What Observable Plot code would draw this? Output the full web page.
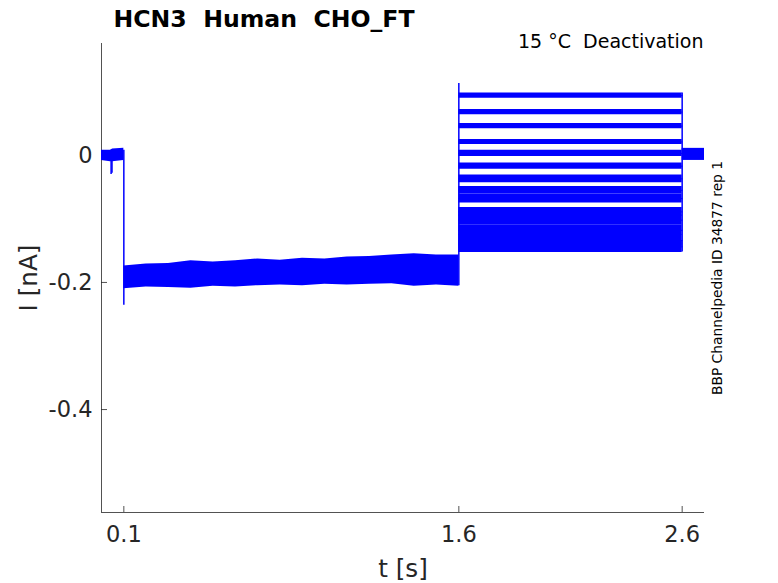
<!DOCTYPE html>
<html><head><meta charset="utf-8">
<script src="https://cdn.jsdelivr.net/npm/d3@7"></script>
<script src="https://cdn.jsdelivr.net/npm/@observablehq/plot@0.6"></script>
<style>
body{margin:0;background:#fff;}
#chart svg{font-family:"DejaVu Sans",sans-serif;}
</style>
</head><body><div id="chart"></div>
<script>
// ---- axes ----
const xDomain = [0, 2.7];
const yDomain = [-0.562, 0.176];
const xTicks = [0.1, 1.6, 2.6];
const xTickLabels = ["0.1", "1.6", "2.6"];
const yTicks = [0, -0.2, -0.4];
const yTickLabels = ["0", "-0.2", "-0.4"];

// ---- texts ----
const titleText = "HCN3  Human  CHO_FT";
const conditionText = "15 °C  Deactivation";
const sourceText = "BBP Channelpedia ID 34877 rep 1";
const xLabel = "t [s]";
const yLabel = "I [nA]";

// ---- protocol segments (t in s, I in nA) ----
const preT = [0, 0.04, 0.05, 0.1];
const preLo = [-0.008, -0.010, -0.010, -0.008];
const preHi = [0.008, 0.008, 0.010, 0.011];

const holdT  = [0.1, 0.2, 0.3, 0.4, 0.5, 0.6, 0.7, 0.8, 0.9, 1.0, 1.1, 1.2, 1.3, 1.4, 1.5, 1.6];
const holdHi = [-0.174, -0.171, -0.170, -0.166, -0.168, -0.166, -0.163, -0.165, -0.162, -0.163, -0.160, -0.159, -0.157, -0.155, -0.157, -0.157];
const holdLo = [-0.210, -0.207, -0.208, -0.209, -0.206, -0.207, -0.205, -0.204, -0.205, -0.203, -0.204, -0.203, -0.202, -0.206, -0.204, -0.206];

const testT = [1.6, 2.6];
const sweepLevels = [0.094, 0.068, 0.046, 0.021, 0.003, -0.017, -0.037, -0.055, -0.068, -0.089, -0.102, -0.118, -0.134, -0.144];
const sweepNoise  = [0.004, 0.004, 0.004, 0.004, 0.005, 0.005, 0.006, 0.006, 0.007, 0.007, 0.008, 0.008, 0.009, 0.009];

const postT = [2.6, 2.7];
const postLo = [-0.008, -0.008];
const postHi = [0.011, 0.011];

// vertical transients / step edges
const edgeT  = [0.043, 0.047, 0.1, 1.6, 2.6];
const edgeLo = [-0.030, -0.028, -0.236, -0.205, -0.152];
const edgeHi = [0.000, 0.000, 0.008, 0.113, 0.098];

// ---- tables built from the arrays ----
const band = (T, lo, hi) => T.map((t, i) => ({t, lo: lo[i], hi: hi[i]}));
const preRows = band(preT, preLo, preHi);
const holdRows = band(holdT, holdLo, holdHi);
const postRows = band(postT, postLo, postHi);
const testRows = sweepLevels.flatMap((lv, s) => testT.map(t => ({sweep: s, t, level: lv, lo: lv - sweepNoise[s], hi: lv + sweepNoise[s]})));
const edgeRows = band(edgeT, edgeLo, edgeHi);

const blue = "#0000ff";
const axisColor = "#262626";

const chart = Plot.plot({
  width: 778, height: 583,
  marginLeft: 101, marginRight: 74, marginTop: 43, marginBottom: 71,
  style: {background: "#fff", overflow: "visible", fontFamily: "DejaVu Sans, sans-serif"},
  x: {domain: xDomain, label: null},
  y: {domain: yDomain, label: null},
  marks: [
    Plot.ruleX([xDomain[0]], {stroke: axisColor, strokeWidth: 0.8}),
    Plot.ruleY([yDomain[0]], {stroke: axisColor, strokeWidth: 0.8}),
    Plot.axisX(xTicks, {anchor: "bottom", tickSize: -6, fill: "none", stroke: axisColor, strokeWidth: 0.8, label: null}),
    Plot.axisX(xTicks, {anchor: "bottom", tickSize: 0, tickPadding: 14, fontSize: 22.5, fill: axisColor, label: null,
      tickFormat: d => xTickLabels[xTicks.indexOf(d)]}),
    Plot.axisY(yTicks, {anchor: "left", tickSize: -6, fill: "none", stroke: axisColor, strokeWidth: 0.8, label: null}),
    Plot.axisY(yTicks, {anchor: "left", tickSize: 0, tickPadding: 9, fontSize: 22.5, fill: axisColor, label: null,
      tickFormat: d => yTickLabels[yTicks.indexOf(d)]}),

    Plot.areaY(preRows, {x: "t", y1: "lo", y2: "hi", fill: blue}),
    Plot.areaY(holdRows, {x: "t", y1: "lo", y2: "hi", fill: blue}),
    Plot.areaY(postRows, {x: "t", y1: "lo", y2: "hi", fill: blue}),
    Plot.areaY(testRows, {x: "t", y1: "lo", y2: "hi", z: "sweep", fill: blue}),
    Plot.lineY(testRows, {x: "t", y: "level", z: "sweep", stroke: blue, strokeWidth: 1}),
    Plot.ruleX(edgeRows, {x: "t", y1: "lo", y2: "hi", stroke: blue, strokeWidth: 1.5}),

    Plot.text([titleText], {frameAnchor: "top-left", text: d => d, textAnchor: "start", lineAnchor: "bottom",
      dx: 12, dy: -17, fontSize: 23.6, fontWeight: "bold", fill: "#000"}),
    Plot.text([conditionText], {frameAnchor: "top-right", text: d => d, textAnchor: "end", lineAnchor: "bottom",
      dx: -1, dy: 4.5, fontSize: 19, fill: "#000"}),
    Plot.text([sourceText], {frameAnchor: "right", text: d => d, textAnchor: "middle", lineAnchor: "bottom",
      rotate: -90, dx: 17, fontSize: 13.8, fill: "#000"}),
    Plot.text([yLabel], {frameAnchor: "left", text: d => d, textAnchor: "middle", lineAnchor: "bottom",
      rotate: -90, dx: -65, fontSize: 24.7, fill: axisColor}),
    Plot.text([xLabel], {frameAnchor: "bottom", text: d => d, textAnchor: "middle", lineAnchor: "bottom",
      dy: 64, fontSize: 24.7, fill: axisColor})
  ]
});
document.getElementById("chart").appendChild(chart);
</script>
</body></html>
